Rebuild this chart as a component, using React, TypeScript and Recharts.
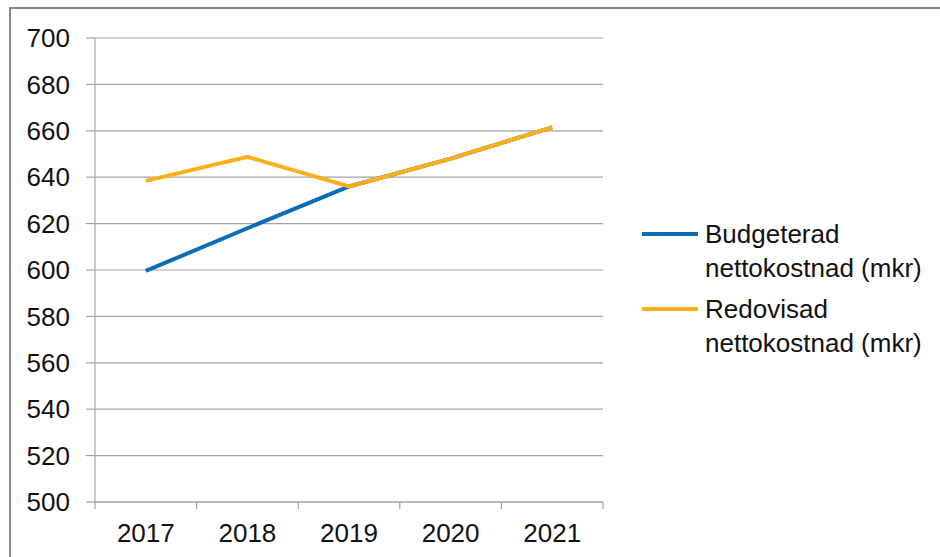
import React from 'react';
import { LineChart, Line, XAxis, YAxis, CartesianGrid, Legend } from 'recharts';

const years = ['2017', '2018', '2019', '2020', '2021'];
const budgeterad = [599.6, 618, 636, 648, 661.5];
const redovisad = [638.4, 648.8, 636, 648, 661.5];
const yTicks = [500, 520, 540, 560, 580, 600, 620, 640, 660, 680, 700];

const seriesNames = {
  budget: 'Budgeterad nettokostnad (mkr)',
  actual: 'Redovisad nettokostnad (mkr)',
};

const data = years.map((year, i) => ({
  year,
  budget: budgeterad[i],
  actual: redovisad[i],
}));

const FONT = '"Liberation Sans", Arial, sans-serif';
const FS = 26;
const GRID = '#a3a3a3';
const BLUE = '#0b6cb8';
const ORANGE = '#fdaf17';
const PLOT_W = 508;
const BAND = PLOT_W / years.length;

const XTick = (props: any) => {
  const { x, y, payload, index } = props;
  const half = BAND / 2;
  return (
    <g>
      <line x1={x - half} x2={x - half} y1={y} y2={y + 7} stroke={GRID} strokeWidth={1.2} />
      {index === years.length - 1 && (
        <line x1={x + half} x2={x + half} y1={y} y2={y + 7} stroke={GRID} strokeWidth={1.2} />
      )}
      <text x={x} y={y + 40} textAnchor="middle" fontSize={FS} fill="#111" fontFamily={FONT}>
        {payload.value}
      </text>
    </g>
  );
};

const LegendContent = () => {
  const items = [
    { name: seriesNames.budget, color: BLUE },
    { name: seriesNames.actual, color: ORANGE },
  ];
  return (
    <div style={{ fontFamily: FONT, fontSize: FS, color: '#111', lineHeight: '34px' }}>
      {items.map((it) => (
        <div key={it.name} style={{ display: 'flex', alignItems: 'flex-start', marginBottom: 7 }}>
          <div style={{ width: 56, height: 4, background: it.color, marginTop: 15, marginRight: 7, flexShrink: 0 }} />
          <div style={{ width: 235 }}>{it.name}</div>
        </div>
      ))}
    </div>
  );
};

export default function App() {
  return (
    <div style={{ position: 'absolute', left: 0, top: 0, width: 940, height: 557, background: '#fff', overflow: 'hidden' }}>
      <div
        style={{
          position: 'absolute',
          left: 9,
          top: 7,
          width: 1000,
          height: 600,
          borderTop: '2px solid #8a8a8a',
          borderLeft: '2px solid #8a8a8a',
        }}
      />
      <div style={{ position: 'absolute', left: 0, top: 0 }}>
        <LineChart width={940} height={557} data={data} margin={{ top: 38, right: 337, bottom: 0, left: 0 }}>
          <CartesianGrid vertical={false} stroke={GRID} strokeWidth={1.2} />
          <XAxis
            dataKey="year"
            height={55}
            padding={{ left: BAND / 2, right: BAND / 2 }}
            axisLine={{ stroke: GRID, strokeWidth: 1.2 }}
            tickLine={false}
            tickSize={0}
            tickMargin={0}
            tick={<XTick />}
            interval={0}
          />
          <YAxis
            width={95}
            domain={[500, 700]}
            ticks={yTicks}
            interval={0}
            axisLine={{ stroke: GRID, strokeWidth: 1.2 }}
            tickLine={{ stroke: GRID, strokeWidth: 1.2 }}
            tickSize={9}
            tickMargin={16}
            tick={{ fontSize: FS, fill: '#111', fontFamily: FONT }}
          />
          <Legend
            layout="vertical"
            align="center"
            verticalAlign="middle"
            content={<LegendContent />}
            wrapperStyle={{ left: 642, top: 217, width: 300, height: 150 }}
          />
          <Line
            type="linear"
            dataKey="budget"
            name={seriesNames.budget}
            stroke={BLUE}
            strokeWidth={4}
            dot={false}
            isAnimationActive={false}
          />
          <Line
            type="linear"
            dataKey="actual"
            name={seriesNames.actual}
            stroke={ORANGE}
            strokeWidth={4}
            dot={false}
            isAnimationActive={false}
          />
        </LineChart>
      </div>
    </div>
  );
}
